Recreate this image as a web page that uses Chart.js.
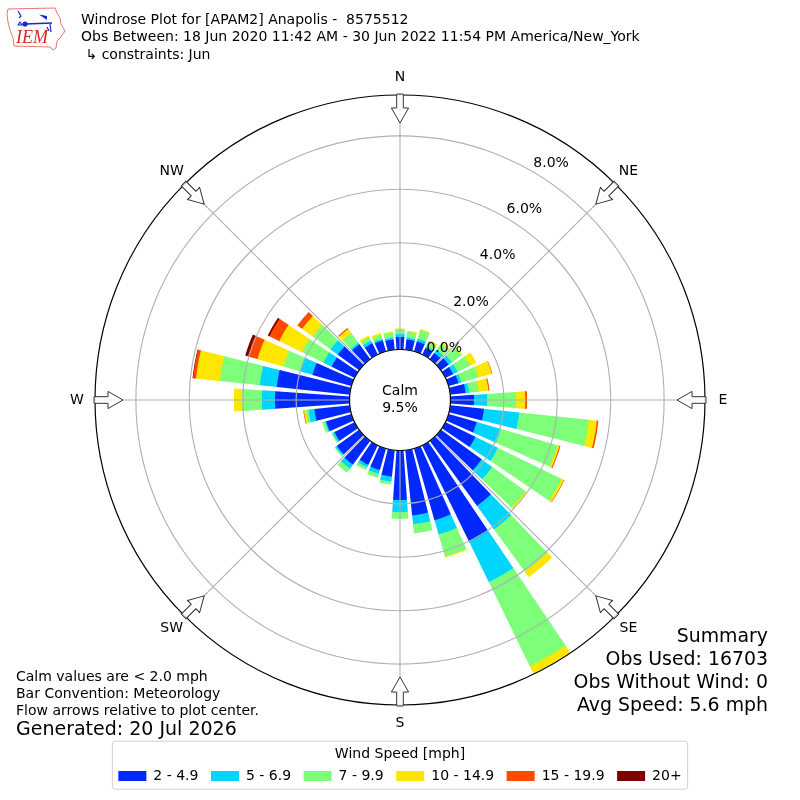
<!DOCTYPE html>
<html>
<head>
<meta charset="utf-8">
<title>Windrose Plot</title>
<script src="https://cdn.jsdelivr.net/npm/chart.js@4/dist/chart.umd.js"></script>
<style>html,body{margin:0;padding:0;background:#fff}canvas{display:block}</style>
</head>
<body>
<canvas id="c" width="800" height="800"></canvas>
<script>
const directions = [0,10,20,30,40,50,60,70,80,90,100,110,120,130,140,150,160,170,180,190,200,210,220,230,240,250,260,270,280,290,300,310,320,330,340,350];
const binLabels = ['2 - 4.9','5 - 6.9','7 - 9.9','10 - 14.9','15 - 19.9','20+'];
const binColors = ['#0028ff','#00d5ff','#7dff7a','#ffe600','#ff4a00','#800000'];
const speed2to5 = [.47,.39,.39,.28,.28,.36,.32,.39,.58,.88,1.27,1.10,1.25,1.89,3.01,4.01,2.79,2.45,1.85,.99,.84,.81,1.10,1.03,.84,.99,1.33,2.79,2.75,1.52,.96,.99,.69,.47,.43,.39];
const speed5to7 = [.11,.07,.11,.07,.15,.15,.19,.11,.13,.49,1.33,.94,.94,.49,1.09,1.69,.56,.34,.45,.19,.15,.11,.19,.07,.07,.04,.22,.49,.64,.49,.34,.34,.07,.11,.07,.07];
const speed7to10 = [.19,.22,.34,.19,.30,.45,.52,.67,.36,1.09,2.62,2.21,2.66,1.54,1.95,3.50,.86,.34,.26,.11,.15,.11,.19,.04,.06,.11,.11,.75,1.50,.64,.90,.82,.45,.15,.15,.19];
const speed10to15 = [.02,.04,.04,.07,.07,.04,.26,.52,.37,.34,.30,.07,.09,.07,.26,.30,.04,0,0,0,0,0,0,0,0,0,.07,.30,.90,1.01,.94,.49,.19,.07,.07,.04];
const speed15to20 = [0,0,0,0,0,0,0,.02,.04,.07,.06,.04,.02,0,0,0,0,0,0,0,0,0,0,0,0,0,.02,0,.11,.37,.41,.22,.04,0,0,0];
const speed20plus = [0,0,0,0,0,0,0,0,0,0,0,0,0,0,0,0,0,0,0,0,0,0,0,0,0,0,0,0,.02,.11,.07,0,0,0,0,0];
const speedBins = [speed2to5,speed5to7,speed7to10,speed10to15,speed15to20,speed20plus];
const radialTicks = [0,2,4,6,8];
const radialMin = -1.89, radialMax = 9.53;
const barAngle = 8, gapAngle = 2;
const compass = [['N',0],['NE',45],['E',90],['SE',135],['S',180],['SW',225],['W',270],['NW',315]];
const titleLines = ['Windrose Plot for [APAM2] Anapolis -  8575512','Obs Between: 18 Jun 2020 11:42 AM - 30 Jun 2022 11:54 PM America/New_York',' ↳ constraints: Jun'];
const noteLines = ['Calm values are < 2.0 mph','Bar Convention: Meteorology','Flow arrows relative to plot center.'];
const generatedText = 'Generated: 20 Jul 2026';
const summaryLines = ['Summary','Obs Used: 16703','Obs Without Wind: 0','Avg Speed: 5.6 mph'];
const calmLines = ['Calm','9.5%'];

const FONT = '"DejaVu Sans"';
Chart.defaults.font.family = FONT;
Chart.defaults.color = '#000';

const labels = [];
directions.forEach(d => { labels.push(d + '°'); labels.push(''); });
let running = directions.map(() => 0);
const datasets = speedBins.map((bin, b) => {
  running = running.map((v, i) => v + bin[i]);
  const data = [];
  running.forEach(v => { data.push(+v.toFixed(3)); data.push(null); });
  return {
    label: binLabels[b], data,
    backgroundColor: binColors[b], borderWidth: 0,
    angle: ctx => ctx.dataIndex % 2 === 0 ? barAngle : gapAngle
  };
});

function text(ctx, s, x, y, size, align, color) {
  ctx.font = size + 'px ' + FONT;
  ctx.textAlign = align || 'left';
  ctx.textBaseline = 'middle';
  ctx.fillStyle = color || '#000';
  ctx.fillText(s, x, y);
}

function drawLogo(ctx) {
  ctx.save();
  ctx.strokeStyle = '#e8504f'; ctx.lineWidth = 0.8; ctx.lineJoin = 'round';
  const o = [[8,9],[55,8],[57,13],[60,18],[61,24],[65,31],[60,38],[57,41],[56,48],[53,50],[50,47],[14,46],[13,38],[10,30],[8,22],[7,14]];
  ctx.beginPath(); o.forEach((p, i) => i ? ctx.lineTo(p[0], p[1]) : ctx.moveTo(p[0], p[1])); ctx.closePath(); ctx.stroke();
  ctx.strokeStyle = '#1528c8'; ctx.fillStyle = '#1528c8'; ctx.lineWidth = 1.6;
  ctx.beginPath(); ctx.moveTo(25, 24); ctx.lineTo(52, 23); ctx.stroke();
  ctx.beginPath(); ctx.arc(25, 24, 2.6, 0, 7); ctx.fill();
  ctx.beginPath(); ctx.moveTo(39, 14.5); ctx.lineTo(47, 16); ctx.lineTo(47, 20); ctx.closePath(); ctx.fill();
  ctx.lineWidth = 1.2;
  ctx.beginPath(); ctx.moveTo(18, 11); ctx.lineTo(21, 16); ctx.lineTo(19, 18); ctx.moveTo(50, 24); ctx.lineTo(51, 32); ctx.moveTo(47, 27); ctx.lineTo(49, 31); ctx.stroke();
  ctx.beginPath(); ctx.moveTo(20, 22); ctx.lineTo(22, 25); ctx.lineTo(18, 25); ctx.closePath(); ctx.stroke();
  ctx.font = 'italic 18px "Liberation Serif"';
  ctx.fillStyle = '#d8282a'; ctx.textAlign = 'left'; ctx.textBaseline = 'middle';
  ctx.fillText('IEM', 16, 38);
  ctx.restore();
}

function drawArrow(ctx, cx, cy, R, deg) {
  ctx.save();
  ctx.translate(cx, cy);
  ctx.rotate(deg * Math.PI / 180);
  ctx.translate(0, -R);
  ctx.beginPath();
  ctx.moveTo(-3.3, -1); ctx.lineTo(3.3, -1); ctx.lineTo(3.3, 13); ctx.lineTo(8.6, 13);
  ctx.lineTo(0, 28); ctx.lineTo(-8.6, 13); ctx.lineTo(-3.3, 13); ctx.closePath();
  ctx.fillStyle = 'rgba(255,255,255,0.85)'; ctx.fill();
  ctx.strokeStyle = '#333'; ctx.lineWidth = 1; ctx.stroke();
  ctx.restore();
}

const decorate = {
  id: 'decorate',
  // Each arc starts where the bin beneath it ends, so no colour fringes show at the bar edges.
  // A bin with no share in a direction gets no visible arc at all.
  afterDatasetsUpdate(chart) {
    const s = chart.scales.r;
    chart.data.datasets.forEach((ds, d) => {
      if (d === 0) return;
      const below = chart.data.datasets[d - 1].data;
      chart.getDatasetMeta(d).data.forEach((el, i) => {
        if (below[i] === null) return;
        if (ds.data[i] === below[i]) { el.outerRadius = 0; el.innerRadius = 0; return; }
        el.innerRadius = Math.max(0, s.getDistanceFromCenterForValue(below[i]) - 0.7);
      });
    });
  },
  afterDraw(chart) {
    const ctx = chart.ctx, s = chart.scales.r, cx = s.xCenter, cy = s.yCenter;
    const R = s.getDistanceFromCenterForValue(radialMax);
    const r0 = s.getDistanceFromCenterForValue(0);
    ctx.save();
    ctx.strokeStyle = '#b0b0b0'; ctx.lineWidth = 1.1;
    compass.forEach(c => {
      const a = c[1] * Math.PI / 180;
      ctx.beginPath(); ctx.moveTo(cx, cy); ctx.lineTo(cx + R * Math.sin(a), cy - R * Math.cos(a)); ctx.stroke();
    });
    ctx.strokeStyle = '#000'; ctx.lineWidth = 1.2;
    ctx.beginPath(); ctx.arc(cx, cy, R, 0, Math.PI * 2); ctx.stroke();
    ctx.fillStyle = '#fff'; ctx.strokeStyle = '#000'; ctx.lineWidth = 1.2;
    ctx.beginPath(); ctx.arc(cx, cy, r0, 0, Math.PI * 2); ctx.fill(); ctx.stroke();
    text(ctx, calmLines[0], cx, cy - 9, 14, 'center');
    text(ctx, calmLines[1], cx, cy + 8, 14, 'center');
    radialTicks.forEach(v => {
      const r = s.getDistanceFromCenterForValue(v);
      text(ctx, v.toFixed(1) + '%', cx + r * 0.5 + 19, cy - r * 0.866 - 8, 14, 'center');
    });
    compass.forEach(c => {
      const a = c[1] * Math.PI / 180;
      drawArrow(ctx, cx, cy, R, c[1]);
      text(ctx, c[0], cx + 323 * Math.sin(a), cy - 323 * Math.cos(a), 14, 'center');
    });
    drawLogo(ctx);
    titleLines.forEach((t, i) => text(ctx, t, 81, 20.5 + i * 17.2, 14));
    noteLines.forEach((t, i) => text(ctx, t, 16, 677 + i * 17, 14));
    text(ctx, generatedText, 16, 730.5, 19);
    summaryLines.forEach((t, i) => text(ctx, t, 768, 637.5 + i * 23, 18.9, 'right'));
    const l = chart.legend, hb = l.legendHitBoxes;
    const x0 = Math.min(...hb.map(h => h.left)) - 6;
    const x1 = Math.max(...hb.map(h => h.left + h.width)) + 6;
    ctx.strokeStyle = '#d0d0d0'; ctx.lineWidth = 1;
    ctx.beginPath(); ctx.roundRect(x0, l.top, x1 - x0, 48, 3); ctx.stroke();
    ctx.restore();
  }
};

new Chart(document.getElementById('c'), {
  type: 'polarArea',
  data: { labels, datasets },
  plugins: [decorate],
  options: {
    responsive: false,
    animation: false,
    devicePixelRatio: 1,
    layout: { padding: { top: 59, left: 95, right: 95, bottom: 7 } },
    scales: {
      r: {
        min: radialMin, max: radialMax,
        startAngle: -barAngle / 2,
        afterBuildTicks: sc => { sc.ticks = [radialMin].concat(radialTicks).map(v => ({ value: v })); },
        ticks: { display: false },
        pointLabels: { display: false },
        angleLines: { display: false },
        grid: { circular: true, color: '#b0b0b0', lineWidth: 1.1, z: 1 }
      }
    },
    plugins: {
      tooltip: { enabled: false },
      legend: {
        display: true, position: 'bottom', align: 'center',
        onClick: null,
        title: { display: true, text: 'Wind Speed [mph]', font: { size: 14 }, color: '#000', padding: { top: 6, bottom: -7.5 } },
        labels: {
          boxWidth: 28, boxHeight: 10, padding: 12.5, color: '#000', font: { size: 14 },
          generateLabels: () => binLabels.map((t, i) => ({ text: t, fillStyle: binColors[i], strokeStyle: binColors[i], lineWidth: 0, hidden: false, datasetIndex: i }))
        }
      }
    }
  }
});
</script>
</body>
</html>
